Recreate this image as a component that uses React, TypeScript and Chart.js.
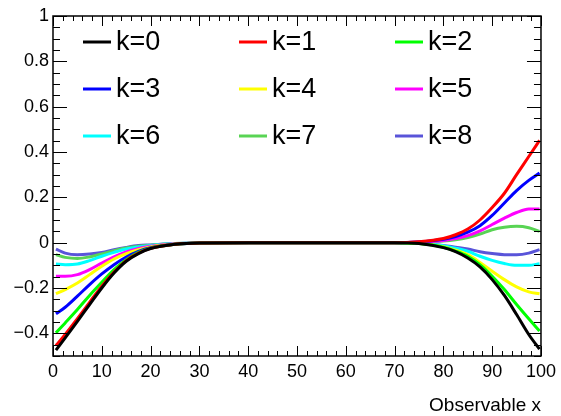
import React, { useEffect, useRef } from "react";
import { Chart, registerables } from "chart.js";

Chart.register(...registerables);

const xs = [0.6, 2.5, 5, 7.5, 10, 12.5, 15, 17.5, 20, 25, 30, 40, 50, 60, 70, 75, 80, 82.5, 85, 87.5, 90, 92.5, 95, 97.5, 99.7];

const k0 = [-0.474, -0.42, -0.347, -0.273, -0.2, -0.134, -0.082, -0.048, -0.026, -0.007, -0.001, 0, 0, 0, 0, -0.004, -0.022, -0.04, -0.068, -0.107, -0.163, -0.233, -0.317, -0.405, -0.47];
const k1 = [-0.454, -0.405, -0.335, -0.263, -0.192, -0.13, -0.079, -0.046, -0.025, -0.007, -0.001, 0, 0, 0, 0, 0.004, 0.018, 0.035, 0.06, 0.1, 0.155, 0.218, 0.3, 0.38, 0.451];
const k2 = [-0.398, -0.354, -0.295, -0.233, -0.175, -0.119, -0.075, -0.043, -0.024, -0.007, -0.001, 0, 0, 0, 0, -0.004, -0.02, -0.037, -0.06, -0.097, -0.148, -0.207, -0.273, -0.336, -0.39];
const k3 = [-0.314, -0.285, -0.236, -0.185, -0.138, -0.097, -0.063, -0.038, -0.022, -0.007, -0.001, 0, 0, 0, 0, 0.003, 0.015, 0.027, 0.046, 0.075, 0.12, 0.175, 0.23, 0.275, 0.307];
const k4 = [-0.225, -0.207, -0.178, -0.141, -0.104, -0.072, -0.048, -0.031, -0.019, -0.006, -0.001, 0, 0, 0, 0, -0.003, -0.018, -0.033, -0.053, -0.087, -0.126, -0.163, -0.195, -0.217, -0.225];
const k5 = [-0.148, -0.148, -0.141, -0.119, -0.09, -0.063, -0.041, -0.026, -0.016, -0.005, -0.001, 0, 0, 0, 0, 0.003, 0.01, 0.018, 0.031, 0.052, 0.08, 0.108, 0.133, 0.149, 0.148];
const k6 = [-0.094, -0.097, -0.094, -0.079, -0.06, -0.043, -0.028, -0.019, -0.012, -0.004, -0.001, 0, 0, 0, 0, -0.003, -0.013, -0.024, -0.038, -0.06, -0.078, -0.092, -0.1, -0.1, -0.093];
const k7 = [-0.053, -0.065, -0.07, -0.063, -0.05, -0.035, -0.023, -0.016, -0.011, -0.004, -0.001, 0, 0, 0, 0, 0.002, 0.007, 0.013, 0.023, 0.038, 0.057, 0.068, 0.072, 0.066, 0.05];
const k8 = [-0.028, -0.046, -0.053, -0.05, -0.043, -0.031, -0.021, -0.013, -0.01, -0.004, -0.001, 0, 0, 0, 0, -0.003, -0.012, -0.02, -0.028, -0.04, -0.048, -0.053, -0.053, -0.046, -0.031];

const seriesLabels = ["k=0", "k=1", "k=2", "k=3", "k=4", "k=5", "k=6", "k=7", "k=8"];
const seriesValues = [k0, k1, k2, k3, k4, k5, k6, k7, k8];
const seriesColors = ["#000000", "#ff0000", "#00ff00", "#0000ff", "#ffff00", "#ff00ff", "#00ffff", "#59d454", "#5954d9"];

const xTickLabels = [0, 10, 20, 30, 40, 50, 60, 70, 80, 90, 100];
const yTickLabels = [-0.4, -0.2, 0, 0.2, 0.4, 0.6, 0.8, 1];
const xTitle = "Observable x";

const FONT = "'Liberation Sans', Arial, sans-serif";

const rootPlugin = {
  id: "rootStyle",
  afterDatasetsDraw(chart: any) {
    const { ctx, chartArea: a, scales } = chart;
    const xs_ = scales.x;
    const ys_ = scales.y;
    ctx.save();
    ctx.strokeStyle = "#000";
    ctx.lineWidth = 1;
    for (let v = 0; v <= 100; v += 2) {
      const px = Math.round(xs_.getPixelForValue(v)) + 0.5;
      const len = v % 10 === 0 ? 10 : 5;
      ctx.beginPath();
      ctx.moveTo(px, a.bottom);
      ctx.lineTo(px, a.bottom - len);
      ctx.moveTo(px, a.top);
      ctx.lineTo(px, a.top + len);
      ctx.stroke();
    }
    for (let i = -10; i <= 20; i++) {
      const v = i * 0.05;
      const py = Math.round(ys_.getPixelForValue(v)) + 0.5;
      const len = i % 4 === 0 ? 14 : 7;
      ctx.beginPath();
      ctx.moveTo(a.left, py);
      ctx.lineTo(a.left + len, py);
      ctx.moveTo(a.right, py);
      ctx.lineTo(a.right - len, py);
      ctx.stroke();
    }
    ctx.lineWidth = 1.5;
    ctx.strokeRect(a.left, a.top, a.right - a.left, a.bottom - a.top);

    const cols = [83, 239, 395];
    const rows = [42, 89, 136];
    ctx.font = `27px ${FONT}`;
    ctx.textBaseline = "middle";
    ctx.textAlign = "left";
    chart.data.datasets.forEach((ds: any, i: number) => {
      const cx = cols[i % 3];
      const cy = rows[Math.floor(i / 3)];
      ctx.strokeStyle = ds.borderColor;
      ctx.lineWidth = 3;
      ctx.beginPath();
      ctx.moveTo(cx, cy);
      ctx.lineTo(cx + 28, cy);
      ctx.stroke();
      ctx.fillStyle = "#000";
      ctx.fillText(ds.label, cx + 33, cy + 1);
    });

    ctx.font = `19px ${FONT}`;
    ctx.textAlign = "right";
    ctx.fillText(xTitle, a.right, 406);
    ctx.restore();
  },
};

export default function App() {
  const ref = useRef<HTMLCanvasElement>(null);
  useEffect(() => {
    if (!ref.current) return;
    const chart = new Chart(ref.current, {
      type: "line",
      data: {
        datasets: seriesLabels.map((label, i) => ({
          label,
          data: xs.map((x, j) => ({ x, y: seriesValues[i][j] })),
          borderColor: seriesColors[i],
          backgroundColor: seriesColors[i],
          borderWidth: 3,
          pointRadius: 0,
          cubicInterpolationMode: "monotone" as const,
          fill: false,
        })),
      },
      options: {
        responsive: false,
        animation: false,
        devicePixelRatio: 1,
        layout: { padding: { left: 0, top: 16, right: 18, bottom: 0 } },
        plugins: { legend: { display: false }, tooltip: { enabled: false } },
        scales: {
          x: {
            type: "linear",
            min: 0,
            max: 100,
            afterBuildTicks: (s: any) => {
              s.ticks = xTickLabels.map((v) => ({ value: v }));
            },
            afterFit: (s: any) => {
              s.height = 60;
            },
            grid: { display: false, drawTicks: false },
            border: { display: false },
            ticks: {
              padding: 5,
              maxRotation: 0,
              autoSkip: false,
              color: "#000",
              font: { family: FONT, size: 18 },
              callback: (v: any) => String(v),
            },
          },
          y: {
            type: "linear",
            min: -0.5,
            max: 1,
            afterBuildTicks: (s: any) => {
              s.ticks = yTickLabels.map((v) => ({ value: v }));
            },
            afterFit: (s: any) => {
              s.width = 53;
            },
            grid: { display: false, drawTicks: false },
            border: { display: false },
            ticks: {
              padding: 4,
              autoSkip: false,
              color: "#000",
              font: { family: FONT, size: 18 },
              callback: (v: any) => {
                const n = Math.round(Number(v) * 10) / 10;
                return n < 0 ? "\u2212" + String(-n) : String(n);
              },
            },
          },
        },
      },
      plugins: [rootPlugin],
    });
    return () => chart.destroy();
  }, []);
  return (
    <div style={{ position: "fixed", left: 0, top: 0, width: 561, height: 416, background: "#fff" }}>
      <canvas ref={ref} width={561} height={416} />
    </div>
  );
}
